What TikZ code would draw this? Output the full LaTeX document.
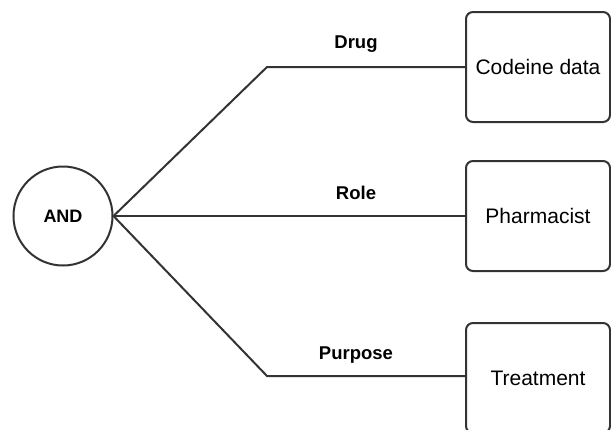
\documentclass[tikz,border=0pt]{standalone}
\usepackage{fontspec}
\setmainfont{Liberation Sans}
\usetikzlibrary{positioning}

\begin{document}
\begin{tikzpicture}[x=1pt,y=-1pt,line width=2pt,draw=black!80]
\tikzstyle{gate}=[draw=black!80,circle,minimum size=99pt,inner sep=0pt,font=\fontsize{18}{20}\selectfont\bfseries]
\tikzstyle{box}=[draw=black!80,rounded corners=7pt,minimum width=144pt,minimum height=110pt,align=center,font=\fontsize{21}{24}\selectfont]
\tikzstyle{lbl}=[font=\fontsize{18.5}{20}\selectfont\bfseries]
\useasboundingbox (0,0) rectangle (611,429);
\clip (0,0) rectangle (611,429);
\node[gate] (andnode) at (63,216) {AND};
\node[box] (codeine) at (538,67) {Codeine data};
\node[box] (pharm) at (538,216) {Pharmacist};
\node[box] (treat) at (538,378) {Treatment};
\coordinate (elbowa) at (267,67);
\coordinate (elbowb) at (267,376);
\draw[black!80] (andnode.east) -- (elbowa) -- (codeine.west);
\draw[black!80] (andnode.east) -- (pharm.west);
\draw[black!80] (andnode.east) -- (elbowb) -- (treat.west |- elbowb);
\node[lbl] (drugl) at (356,44) {Drug};
\node[lbl] (rolel) at (356,193) {Role};
\node[lbl] (purpl) at (356,355) {Purpose};
\end{tikzpicture}
\end{document}
